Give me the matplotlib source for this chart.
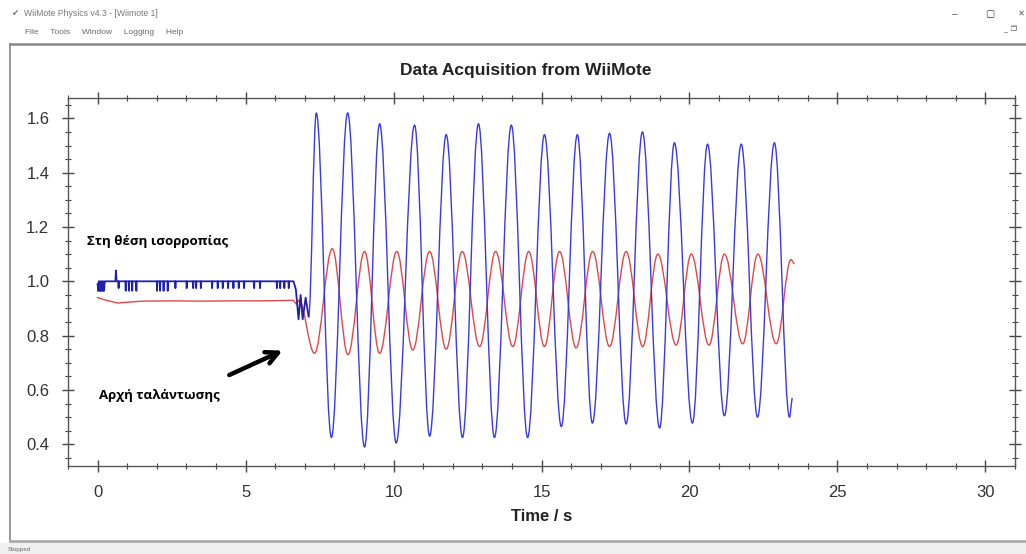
import numpy as np
import matplotlib
matplotlib.use('Agg')
import matplotlib.pyplot as plt
from matplotlib.ticker import MultipleLocator, FormatStrFormatter
from matplotlib.lines import Line2D
from matplotlib.path import Path
from matplotlib.patches import PathPatch, Rectangle

plt.rcParams['font.family'] = ['Liberation Sans', 'DejaVu Sans']

# --- data (time in s, reading) ---
# blue channel, resting part with the small glitches
blue_rest_t = [0.00, 0.02, 0.04, 0.06, 0.08, 0.10, 0.12, 0.14, 0.16, 0.18, 0.20, 0.22, 0.24, 0.26,
               0.60, 0.62, 0.64, 0.70, 0.71, 0.72,
               0.94, 0.95, 0.96, 1.05, 1.06, 1.07, 1.16, 1.17, 1.18, 1.30, 1.31, 1.32,
               2.00, 2.01, 2.02, 2.10, 2.11, 2.12, 2.22, 2.23, 2.24, 2.36, 2.37, 2.38,
               2.62, 2.63, 2.64, 3.00, 3.01, 3.02, 3.22, 3.23, 3.24, 3.32, 3.33, 3.34,
               3.48, 3.49, 3.50, 3.86, 3.87, 3.88, 4.05, 4.06, 4.07, 4.22, 4.23, 4.24,
               4.40, 4.41, 4.42, 4.58, 4.59, 4.60, 4.76, 4.77, 4.78, 4.94, 4.95, 4.96,
               5.28, 5.29, 5.30, 5.48, 5.49, 5.50,
               6.05, 6.06, 6.07, 6.16, 6.17, 6.18, 6.30, 6.31, 6.32, 6.45, 6.46, 6.47, 6.62,
               6.70, 6.79, 6.86, 6.93, 7.03, 7.13]
blue_rest_y = [0.99, 0.965, 1.00, 0.965, 1.00, 0.965, 1.00, 0.965, 1.00, 0.965, 1.00, 0.965, 1.00, 1.00,
               1.00, 1.04, 1.00, 1.00, 0.975, 1.00,
               1.00, 0.965, 1.00, 1.00, 0.965, 1.00, 1.00, 0.965, 1.00, 1.00, 0.965, 1.00,
               1.00, 0.965, 1.00, 1.00, 0.965, 1.00, 1.00, 0.965, 1.00, 1.00, 0.965, 1.00,
               1.00, 0.975, 1.00, 1.00, 0.975, 1.00, 1.00, 0.975, 1.00, 1.00, 0.975, 1.00,
               1.00, 0.975, 1.00, 1.00, 0.975, 1.00, 1.00, 0.975, 1.00, 1.00, 0.975, 1.00,
               1.00, 0.975, 1.00, 1.00, 0.975, 1.00, 1.00, 0.975, 1.00, 1.00, 0.975, 1.00,
               1.00, 0.975, 1.00, 1.00, 0.975, 1.00,
               1.00, 0.975, 1.00, 1.00, 0.975, 1.00, 1.00, 0.975, 1.00, 1.00, 0.975, 1.00, 1.00,
               0.97, 0.86, 0.95, 0.86, 0.94, 0.87]

# blue channel, oscillation (alternating peaks and troughs)
blue_osc_t = [7.39, 7.90, 8.45, 9.02, 9.53, 10.09, 10.71, 11.22, 11.78, 12.33,
              12.87, 13.41, 13.98, 14.53, 15.10, 15.67, 16.21, 16.72, 17.30, 17.86,
              18.41, 18.99, 19.49, 20.10, 20.61, 21.18, 21.75, 22.30, 22.87, 23.38, 23.48]
blue_osc_y = [1.62, 0.425, 1.62, 0.39, 1.58, 0.405, 1.575, 0.43, 1.54, 0.425,
              1.58, 0.425, 1.575, 0.425, 1.54, 0.465, 1.54, 0.478, 1.545, 0.475,
              1.55, 0.46, 1.51, 0.478, 1.505, 0.505, 1.505, 0.50, 1.51, 0.50, 0.57]

# red channel
red_rest_t = [0.00, 0.30, 0.68, 1.00, 1.50, 2.50, 3.50, 4.50, 5.50, 6.62, 6.72, 6.80]
red_rest_y = [0.94, 0.93, 0.92, 0.923, 0.927, 0.928, 0.927, 0.928, 0.928, 0.93, 0.915, 0.93]

red_osc_t = [7.33, 7.93, 8.46, 9.02, 9.53, 10.11, 10.65, 11.22, 11.78, 12.32,
             12.91, 13.45, 14.03, 14.57, 15.10, 15.61, 16.17, 16.73, 17.30, 17.86,
             18.42, 18.93, 19.55, 20.06, 20.66, 21.18, 21.80, 22.31, 22.93, 23.43, 23.55]
red_osc_y = [0.735, 1.12, 0.73, 1.11, 0.735, 1.11, 0.747, 1.11, 0.75, 1.11,
             0.76, 1.11, 0.76, 1.11, 0.76, 1.11, 0.755, 1.11, 0.76, 1.11,
             0.76, 1.10, 0.765, 1.10, 0.765, 1.10, 0.77, 1.10, 0.77, 1.08, 1.065]


def smooth_path(t, y):
    # cubic curve between successive extrema, flat at each one (sine-like)
    k = 1 - 2 / np.pi
    verts = [(t[0], y[0])]
    codes = [Path.MOVETO]
    for i in range(1, len(t)):
        dt = t[i] - t[i - 1]
        verts += [(t[i - 1] + k * dt, y[i - 1]), (t[i] - k * dt, y[i]), (t[i], y[i])]
        codes += [Path.CURVE4] * 3
    return Path(verts, codes)


fig = plt.figure(figsize=(10.26, 5.54), dpi=100)
fig.patch.set_facecolor('white')

ax = fig.add_axes([68/1026, 1 - 466/554, (1015 - 68)/1026, (466 - 98)/554])

red_col = '#e04848'
blue_col = '#3a3ae0'
ax.plot(red_rest_t, red_rest_y, '-', color=red_col, lw=1.0)
ax.add_patch(PathPatch(smooth_path(red_rest_t[-1:] + red_osc_t, red_rest_y[-1:] + red_osc_y),
                       fill=False, edgecolor=red_col, lw=1.0))
ax.plot(blue_rest_t, blue_rest_y, '-', color='#2020b0', lw=1.3)
ax.add_patch(PathPatch(smooth_path(blue_rest_t[-1:] + blue_osc_t, blue_rest_y[-1:] + blue_osc_y),
                       fill=False, edgecolor=blue_col, lw=1.0))

ax.set_xlim(-1, 31)
ax.set_ylim(0.32, 1.675)
ax.xaxis.set_major_locator(MultipleLocator(5))
ax.xaxis.set_minor_locator(MultipleLocator(1))
ax.yaxis.set_major_locator(MultipleLocator(0.2))
ax.yaxis.set_minor_locator(MultipleLocator(0.05))
ax.yaxis.set_major_formatter(FormatStrFormatter('%.1f'))
ax.tick_params(which='both', direction='inout', top=True, right=True,
               color='#444444', labelcolor='#333333', labelsize=12)
ax.tick_params(which='major', length=9, width=1, pad=9)
ax.tick_params(which='minor', length=5, width=0.8)
for s in ax.spines.values():
    s.set_color('#555555')
    s.set_linewidth(1.0)

ax.set_xlabel('Time / s', fontsize=12, fontweight='bold', color='#222222', labelpad=7)

# annotations
ax.text(-0.35, 1.145, 'Στη θέση ισορροπίας', fontsize=9.5, fontweight='bold',
        family=['Open Sans', 'DejaVu Sans'], va='center', ha='left')
ax.text(0.05, 0.58, 'Αρχή ταλάντωσης', fontsize=9.5, fontweight='bold',
        family=['Open Sans', 'DejaVu Sans'], va='center', ha='left')
ax.annotate('', xy=(6.25, 0.745), xytext=(4.45, 0.655),
            arrowprops=dict(arrowstyle='->', lw=3.2, color='black',
                            mutation_scale=22, shrinkA=0, shrinkB=0))

# chart title (centred on the window)
fig.text(0.512, 1 - 70/554, 'Data Acquisition from WiiMote', ha='center', va='center',
         fontsize=12.5, fontweight='bold', color='#222222')

# window chrome of the screenshot
fig.text(12/1026, 1 - 14/554, '✔  WiiMote Physics v4.3 - [Wiimote 1]', fontsize=6.2,
         color='#777777', va='center')
fig.text(25/1026, 1 - 32/554, 'File     Tools     Window     Logging     Help', fontsize=6,
         color='#666666', va='center')
fig.text(955/1026, 1 - 14/554, '–', fontsize=7, color='#555555', va='center', ha='center')
fig.text(990/1026, 1 - 14/554, '▢', fontsize=7, color='#333333', va='center', ha='center')
fig.text(1021/1026, 1 - 14/554, '✕', fontsize=6, color='#555555', va='center', ha='center')
fig.text(1010/1026, 1 - 30/554, '_  ❐', fontsize=5, color='#444444', va='center', ha='center')
fig.add_artist(Line2D([10/1026, 1], [1 - 44/554] * 2, color='#888888', lw=1.8))
fig.add_artist(Line2D([10/1026, 10/1026], [1 - 44/554, 1 - 541/554], color='#888888', lw=1.2))
fig.add_artist(Line2D([10/1026, 1], [1 - 541/554] * 2, color='#aaaaaa', lw=2))
fig.patches.append(Rectangle((0, 0), 1, 1 - 543/554, transform=fig.transFigure,
                             facecolor='#f0f0f0', edgecolor='none'))
fig.text(8/1026, 1 - 549/554, 'Stopped', fontsize=4.5, color='#666666', va='center')

fig.savefig('out.png', dpi=100)
